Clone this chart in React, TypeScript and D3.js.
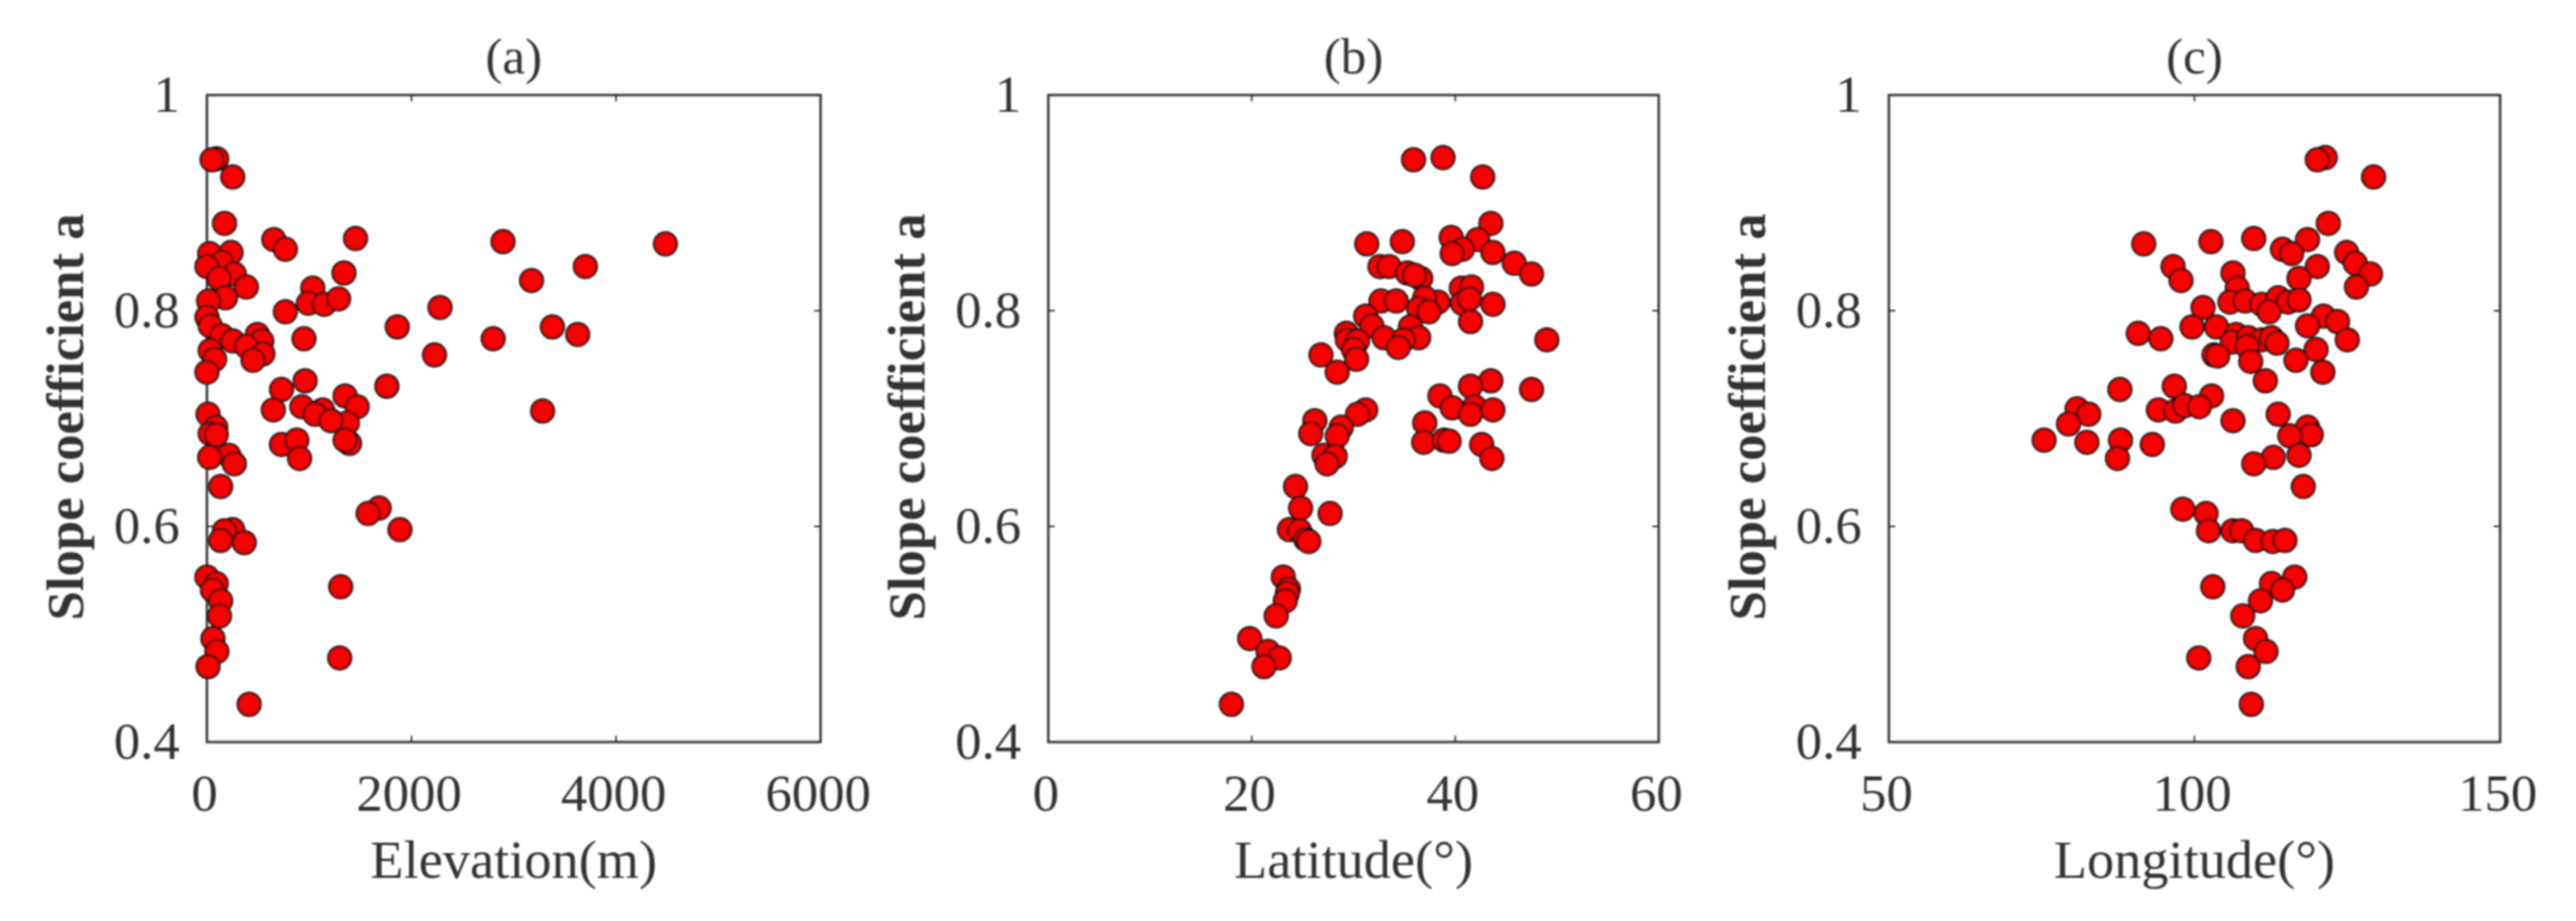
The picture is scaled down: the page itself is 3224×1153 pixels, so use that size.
import React from "react";
import * as d3 from "d3";

type Pt = [number, number];

const elevationPoints: Pt[] = [
[95,.941],[50,.940],[252,.924],[172,.881],[654,.866],[767,.857],[1453,.867],[2895,.864],[4483,.862],[3700,.841],[3174,.828],
[27,.853],[236,.854],[145,.845],[0,.841],[268,.834],[118,.830],[386,.822],[1340,.835],[1035,.821],[992,.807],[1147,.806],[1287,.811],
[182,.812],[16,.809],[767,.799],[0,.794],[32,.786],[2279,.803],[1861,.785],[3378,.785],[2799,.774],[3625,.778],[2225,.759],
[145,.777],[252,.772],[493,.778],[536,.772],[386,.767],[547,.760],[450,.754],[949,.774],[32,.763],[75,.755],[0,.743],
[960,.735],[729,.727],[1759,.730],[1351,.721],[3282,.707],[649,.708],[928,.711],[1131,.708],[1056,.704],[1469,.711],[1373,.696],[1212,.698],
[11,.704],[86,.692],[32,.686],[91,.685],[729,.676],[879,.680],[1394,.677],[1351,.680],[906,.663],[214,.666],[27,.664],[268,.658],
[134,.637],[1684,.617],[1576,.612],[1887,.597],[252,.597],[172,.596],[134,.587],[365,.585],
[0,.553],[91,.547],[54,.541],[1308,.544],[134,.531],[123,.517],[59,.496],[97,.484],[1298,.478],[11,.470],[413,.435],
];

const latitudePoints: Pt[] = [
[35.9,.940],[38.8,.942],[42.7,.924],[43.5,.881],[42.2,.866],[39.6,.868],[40.7,.857],[39.7,.853],[34.8,.864],[31.3,.862],[43.7,.854],[45.8,.844],[47.5,.834],
[32.6,.841],[33.5,.841],[35.3,.835],[36.6,.830],[36.0,.833],[40.6,.821],[41.6,.822],[40.7,.807],[41.4,.811],[43.7,.806],[32.7,.809],[34.2,.809],[38.3,.808],[37.0,.812],
[36.4,.802],[37.4,.799],[41.5,.790],[31.2,.795],[31.8,.786],[35.6,.785],[29.3,.779],[29.4,.773],[30.4,.772],[33.0,.775],[36.4,.775],[34.9,.773],[34.4,.766],[49.0,.773],
[30.0,.764],[26.8,.759],[30.3,.755],[28.4,.743],[43.5,.735],[41.5,.730],[47.5,.727],[38.5,.721],[39.7,.710],[41.9,.711],[41.5,.704],[43.7,.708],[31.2,.708],[30.4,.704],
[26.2,.698],[37.0,.696],[28.8,.692],[28.4,.684],[25.8,.686],[36.9,.678],[38.9,.680],[39.4,.679],[42.6,.676],[43.6,.663],[27.1,.666],[28.2,.665],[27.4,.658],
[24.3,.637],[24.8,.617],[27.7,.612],[23.7,.597],[24.7,.596],[25.3,.588],[25.6,.586],[23.1,.553],[23.6,.542],[23.5,.538],[23.3,.531],[22.4,.517],[19.8,.496],[21.6,.484],[22.7,.478],[21.2,.470],[18.0,.435],
];

const longitudePoints: Pt[] = [
[121.4,.942],[120.1,.940],[129.3,.924],[121.9,.881],[118.5,.866],[109.7,.867],[102.7,.864],[91.7,.862],[114.4,.857],[115.9,.853],[124.9,.854],[126.3,.844],[128.8,.834],
[96.5,.841],[120.1,.841],[97.8,.828],[106.3,.835],[117.1,.830],[126.5,.822],[107.0,.821],[105.8,.808],[108.3,.809],[111.0,.806],[113.7,.812],[115.3,.808],[117.1,.810],
[112.2,.799],[101.4,.803],[99.6,.785],[103.6,.785],[121.1,.795],[123.4,.790],[118.5,.786],[90.8,.779],[94.5,.774],[106.8,.778],[106.2,.771],[108.8,.775],[111.0,.773],[112.6,.775],[113.5,.770],[108.6,.767],
[125.0,.773],[119.9,.764],[103.2,.759],[103.8,.758],[109.2,.753],[116.6,.754],[121.0,.743],[111.6,.735],[96.7,.730],[87.8,.727],[102.8,.721],[80.8,.709],[82.7,.704],[79.4,.695],
[94.1,.708],[96.9,.707],[98.4,.712],[100.8,.711],[106.3,.698],[113.7,.704],[118.5,.692],[119.1,.685],[115.6,.684],[75.4,.680],[82.4,.678],[87.9,.680],[93.1,.676],[87.4,.663],[117.1,.666],[112.9,.664],[109.7,.658],
[117.8,.637],[98.1,.616],[101.9,.612],[102.3,.596],[106.3,.596],[107.7,.596],[110.0,.587],[112.8,.586],[114.8,.587],[116.4,.553],[112.6,.547],[114.4,.541],[103.0,.544],[110.8,.531],[107.9,.517],[110.0,.496],[111.7,.484],[100.7,.478],[108.8,.470],[109.3,.435],
];

const slopeTicks = [0.4, 0.6, 0.8, 1];
const elevationTicks = [0, 2000, 4000, 6000];
const latitudeTicks = [0, 20, 40, 60];
const longitudeTicks = [50, 100, 150];

const panels = [
  { title: "(a)", xLabel: "Elevation(m)", left: 259, right: 1027, domain: [0, 6000], ticks: elevationTicks, points: elevationPoints },
  { title: "(b)", xLabel: "Latitude(°)", left: 1312, right: 2076, domain: [0, 60], ticks: latitudeTicks, points: latitudePoints },
  { title: "(c)", xLabel: "Longitude(°)", left: 2364, right: 3129, domain: [50, 150], ticks: longitudeTicks, points: longitudePoints },
];

const TOP = 119;
const BOTTOM = 929;
const INK = "#333";
const FONT = "'Liberation Serif', serif";

export default function App() {
  const y = d3.scaleLinear().domain([0.4, 1]).range([BOTTOM, TOP]);
  return (
    <svg width={3224} height={1153} style={{ position: "absolute", left: 0, top: 0, background: "#fff" }} fontFamily={FONT}>
      <defs>
        <filter id="soft" x="-5%" y="-5%" width="110%" height="110%">
          <feGaussianBlur stdDeviation="1" />
        </filter>
      </defs>
      <g filter="url(#soft)">
        {panels.map((p) => {
          const x = d3.scaleLinear().domain(p.domain).range([p.left, p.right]);
          const cx = (p.left + p.right) / 2;
          return (
            <g key={p.title}>
              {p.ticks.map((t) => (
                <g key={t}>
                  <line x1={x(t)} x2={x(t)} y1={BOTTOM} y2={BOTTOM - 8} stroke={INK} strokeWidth={2} />
                  <line x1={x(t)} x2={x(t)} y1={TOP} y2={TOP + 8} stroke={INK} strokeWidth={2} />
                  <text x={x(t) - 3} y={1015} textAnchor="middle" fontSize={66} fill={INK}>{t}</text>
                </g>
              ))}
              {slopeTicks.map((t) => (
                <g key={t}>
                  <line x1={p.left} x2={p.left + 8} y1={y(t)} y2={y(t)} stroke={INK} strokeWidth={2} />
                  <line x1={p.right} x2={p.right - 8} y1={y(t)} y2={y(t)} stroke={INK} strokeWidth={2} />
                  <text x={p.left - 34} y={y(t) + 21} textAnchor="end" fontSize={66} fill={INK}>{t}</text>
                </g>
              ))}
              <rect x={p.left} y={TOP} width={p.right - p.left} height={BOTTOM - TOP} fill="none" stroke={INK} strokeWidth={3} />
              {p.points.map(([a, b], i) => (
                <circle key={i} cx={x(a)} cy={y(b)} r={14.5} fill="#f60000" stroke="#111" strokeWidth={2.5} />
              ))}
              <text x={cx} y={92} textAnchor="middle" fontSize={64} fill={INK}>{p.title}</text>
              <text x={cx} y={1099} textAnchor="middle" fontSize={68} fill={INK}>{p.xLabel}</text>
              <text
                transform={`translate(${p.left - 155},${(TOP + BOTTOM) / 2 - 2}) rotate(-90)`}
                textAnchor="middle"
                fontSize={66}
                fontWeight={700}
                fill={INK}
              >
                Slope coefficient a
              </text>
            </g>
          );
        })}
      </g>
    </svg>
  );
}
